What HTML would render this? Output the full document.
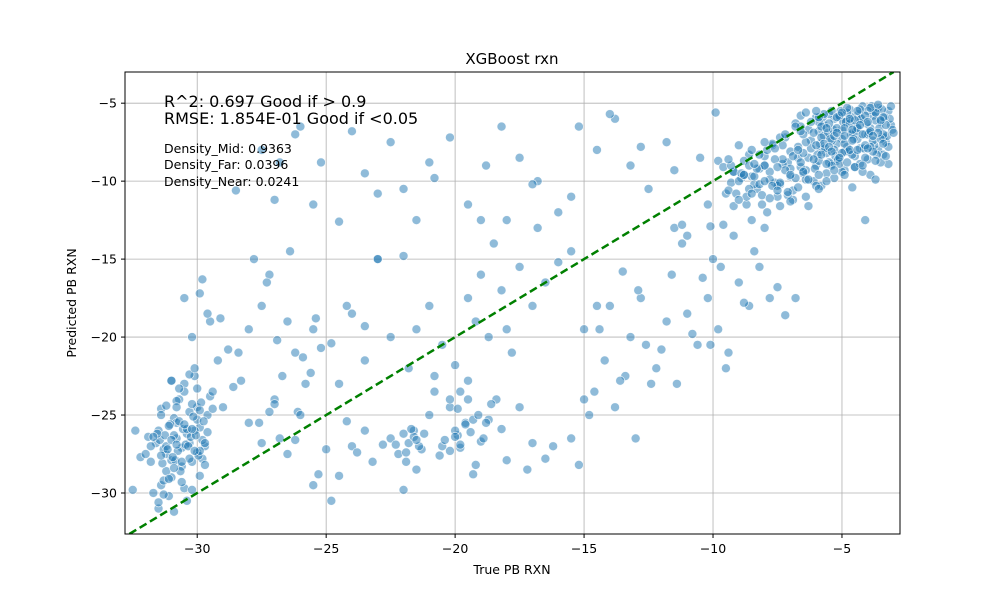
<!DOCTYPE html>
<html><head><meta charset="utf-8"><style>
html,body{margin:0;padding:0;background:#fff;}
svg{display:block;font-family:"DejaVu Sans","Liberation Sans",sans-serif;}
</style></head><body>
<svg id="chart" width="1000" height="600" viewBox="0 0 1000 600"></svg>
<script>
const xTicks=[-30,-25,-20,-15,-10,-5];
const yTicks=[-5,-10,-15,-20,-25,-30];
const xDomain=[-32.8,-2.75];
const yDomain=[-32.63,-3.0];
const aX=[-3.2,-3.5,-3.8,-4.1,-4.4,-4.7,-5.0,-5.3,-5.6,-5.9,-3.3,-3.6,-3.9,-4.2,-4.5,-4.8,-5.1,-5.4,-5.7,-6.0,-3.1,-3.4,-3.7,-4.0,-4.3,-4.6,-4.9,-5.2,-5.5,-5.8,-6.2,-6.5,-6.8,-7.1,-7.4,-7.7,-8.0,-8.3,-8.6,-8.9,-3.4,-3.9,-4.3,-4.8,-5.2,-5.7,-6.1,-6.6,-7.0,-7.5,-3.6,-4.0,-4.5,-4.9,-5.4,-5.8,-6.3,-6.7,-7.2,-7.6,-9.2,-9.5,-9.8,-8.1,-8.5,-7.9,-6.9,-6.4,-5.6,-4.6,-3.2,-3.7,-4.1,-4.4,-5.0,-5.3,-6.0,-6.6,-7.3,-8.2];
const aY=[-5.5,-6.2,-5.8,-7.0,-6.5,-5.4,-7.3,-6.0,-8.2,-6.8,-7.5,-8.0,-6.6,-5.2,-8.4,-7.8,-5.9,-8.9,-7.1,-9.0,-6.4,-7.2,-5.6,-8.6,-6.0,-6.9,-9.3,-7.6,-5.7,-8.0,-7.4,-9.5,-6.3,-8.8,-10.2,-7.7,-9.0,-10.5,-8.3,-9.8,-8.3,-9.6,-7.9,-6.1,-8.7,-6.4,-10.0,-5.8,-9.2,-11.0,-5.3,-7.0,-9.1,-8.1,-7.4,-10.3,-6.7,-8.5,-7.2,-10.1,-9.4,-10.8,-8.7,-11.5,-9.7,-12.0,-11.2,-9.9,-9.5,-10.4,-8.9,-9.9,-12.5,-7.3,-6.7,-8.0,-5.9,-6.5,-8.9,-9.2];
const a2X=[-3.15,-3.45,-3.75,-4.05,-4.35,-4.65,-4.95,-5.25,-5.55,-5.85,-3.25,-3.55,-3.85,-4.15,-4.45,-4.75,-5.05,-5.35,-5.65,-5.95,-3.35,-3.65,-3.95,-4.25,-4.55,-4.85,-5.15,-5.45,-5.75,-6.05,-3.05,-3.8,-4.0,-4.6,-4.9,-5.5,-6.3,-6.7,-7.0,-7.3,-3.5,-4.3,-4.7,-5.0,-5.2,-5.9,-6.4,-6.9,-7.8,-8.4,-3.7,-4.4,-5.3,-5.8,-6.2,-6.6,-7.5,-8.0,-8.8,-9.3,-3.9,-4.1,-4.6,-5.1,-5.6,-6.1,-6.5,-7.1,-7.7,-9.6,-3.4,-4.2,-4.8,-5.4,-5.9,-6.4,-7.4,-8.7,-9.9,-10.1];
const a2Y=[-6.0,-5.4,-7.7,-6.3,-5.7,-7.0,-6.2,-8.4,-6.9,-7.6,-7.1,-6.6,-5.2,-7.9,-6.8,-8.1,-5.5,-6.7,-7.9,-8.3,-5.9,-8.3,-6.9,-6.0,-7.3,-6.2,-8.6,-7.3,-5.9,-9.2,-6.7,-7.4,-5.5,-5.9,-7.6,-8.8,-8.5,-7.8,-9.7,-8.6,-8.8,-8.9,-6.3,-9.4,-6.6,-9.6,-9.3,-10.6,-9.4,-10.2,-6.1,-6.6,-9.8,-7.2,-7.9,-9.1,-10.3,-8.4,-9.6,-10.1,-7.8,-5.8,-8.3,-8.9,-10.0,-6.9,-8.2,-10.9,-7.6,-9.1,-7.0,-9.4,-5.6,-9.0,-6.2,-5.6,-11.6,-11.5,-5.6,-12.9];
const hX=[-3.1,-3.3,-3.5,-3.7,-3.9,-4.1,-4.3,-4.5,-4.7,-4.9,-5.1,-5.3,-5.5,-5.7,-5.9,-3.2,-3.4,-3.6,-3.8,-4.0,-4.2,-4.4,-4.6,-4.8,-5.0,-5.2,-5.4,-5.6,-5.8,-6.0,-3.3,-3.7,-4.1,-4.5,-4.9,-5.3,-5.7,-3.5,-3.9,-4.3,-4.7,-5.1,-5.5,-5.9,-3.0,-3.6,-4.0,-4.4,-4.8,-5.2,-5.6,-6.0,-3.8,-4.2,-4.6,-5.0,-5.4,-5.8,-3.4,-4.9];
const hY=[-5.2,-6.4,-7.3,-5.6,-6.8,-7.7,-5.4,-6.1,-8.0,-6.6,-5.8,-7.1,-6.3,-7.6,-8.7,-7.8,-5.9,-6.9,-8.1,-6.2,-7.0,-5.5,-7.4,-5.3,-8.2,-6.9,-5.5,-8.9,-6.5,-7.7,-8.4,-8.7,-8.5,-9.1,-7.1,-9.3,-5.7,-6.1,-5.3,-6.4,-6.0,-8.5,-7.8,-5.9,-6.9,-5.1,-7.9,-8.0,-8.8,-5.9,-6.6,-5.5,-7.1,-9.0,-6.7,-5.6,-8.1,-8.3,-7.6,-9.6];
const iX=[-6.2,-6.4,-6.6,-6.8,-7.0,-7.2,-7.4,-7.6,-7.8,-8.0,-8.2,-8.4,-8.6,-8.8,-9.0,-9.2,-9.4,-6.3,-6.5,-6.7,-6.9,-7.1,-7.3,-7.5,-7.7,-7.9,-8.1,-8.3,-8.5,-8.7,-8.9,-9.1,-9.3,-6.1,-6.6,-7.0,-7.4,-7.8,-8.2,-8.6,-9.0,-9.4,-6.4,-6.8,-7.2,-7.6,-8.0,-8.4,-8.8,-9.2,-6.0,-6.5,-7.0,-7.5,-8.0,-8.5,-9.0,-5.9,-6.3,-6.7];
const iY=[-6.2,-7.5,-8.8,-9.8,-8.1,-9.3,-10.1,-8.6,-9.9,-9.0,-8.3,-9.7,-10.5,-8.7,-10.0,-9.4,-10.6,-9.9,-7.0,-10.4,-8.4,-10.7,-7.7,-9.1,-10.3,-8.0,-10.9,-9.2,-8.0,-11.0,-9.5,-10.8,-9.0,-8.6,-6.8,-11.3,-7.2,-11.1,-10.2,-9.0,-7.7,-8.6,-11.0,-6.5,-7.0,-7.9,-7.5,-8.9,-9.6,-11.6,-10.3,-9.4,-9.6,-10.6,-10.0,-10.8,-11.2,-10.5,-11.6,-8.0];
const bX=[-31.5,-31.2,-30.9,-30.6,-30.3,-30.0,-29.7,-31.4,-31.1,-30.8,-30.5,-30.2,-29.9,-31.3,-31.0,-30.7,-30.4,-30.1,-29.8,-29.5,-31.6,-31.2,-30.8,-30.4,-30.0,-29.6,-31.5,-31.0,-30.5,-30.1,-31.8,-31.3,-30.9,-30.3,-29.9,-32.2,-32.5,-31.9,-31.7,-30.6,-31.4,-31.0,-30.7,-30.2,-29.8,-31.2,-30.9,-30.5,-30.0,-29.7];
const bY=[-26.0,-27.5,-25.2,-28.3,-26.8,-24.5,-27.0,-29.5,-30.2,-26.5,-23.0,-28.0,-25.8,-27.2,-29.0,-24.0,-26.2,-22.5,-27.8,-23.8,-26.8,-28.6,-25.5,-30.5,-27.4,-25.0,-31.0,-27.9,-29.7,-26.0,-28.0,-29.2,-26.3,-24.8,-28.9,-27.7,-29.8,-26.4,-30.0,-27.1,-24.6,-22.8,-25.4,-29.8,-26.6,-27.0,-31.2,-23.5,-25.3,-28.2];
const b2X=[-31.45,-31.15,-30.85,-30.55,-30.25,-29.95,-31.35,-31.05,-30.75,-30.45,-30.15,-29.85,-31.25,-30.95,-30.65,-30.35,-30.05,-29.75,-31.55,-31.1,-30.6,-30.2,-29.9,-31.4,-30.8,-30.4,-30.0,-31.3,-30.9,-30.3,-32.4,-32.0,-31.8,-31.5,-31.0,-30.7,-30.3,-29.9,-29.6,-31.2,-31.4,-30.8,-30.5,-30.1,-29.7,-31.1,-30.6,-30.2,-29.4,-31.7];
const b2Y=[-26.6,-27.2,-27.9,-25.9,-26.4,-27.6,-28.1,-25.6,-27.3,-26.9,-25.1,-24.2,-26.3,-27.7,-28.6,-27.0,-26.3,-25.4,-26.2,-29.1,-29.3,-24.3,-27.3,-25.0,-24.1,-25.9,-23.3,-30.1,-28.4,-27.8,-26.0,-27.5,-27.0,-30.6,-26.6,-23.3,-22.4,-24.7,-26.1,-24.4,-27.6,-26.9,-25.6,-27.3,-26.8,-25.7,-28.0,-25.9,-24.6,-26.4];
const cX=[-30.5,-29.8,-29.5,-29.2,-28.8,-28.3,-27.5,-27.2,-26.9,-26.5,-26.2,-25.8,-25.5,-25.2,-30.1,-29.6,-28.6,-27.8,-27.0,-26.4,-31.0,-30.2,-29.0,-28.0,-27.3,-26.7,-25.9,-25.4,-29.4,-28.4,-30.8,-29.9,-29.1,-27.6,-26.1,-25.6,-24.8,-24.2,-23.5,-23.0];
const cY=[-17.5,-16.3,-19.0,-21.5,-20.8,-22.8,-18.0,-16.0,-20.2,-19.0,-21.0,-23.0,-19.5,-20.7,-22.0,-18.5,-23.2,-15.0,-24.0,-14.5,-22.8,-20.0,-24.5,-19.5,-16.5,-22.5,-21.3,-18.8,-23.5,-21.0,-24.5,-17.2,-18.8,-25.5,-24.8,-22.3,-20.4,-18.0,-19.3,-15.0];
const dX=[-28.0,-27.5,-27.0,-26.5,-26.0,-25.5,-25.0,-24.5,-24.0,-23.5,-22.5,-22.2,-21.9,-21.6,-21.3,-21.0,-20.5,-20.2,-19.9,-19.6,-19.3,-19.0,-18.7,-18.4,-18.0,-17.5,-17.0,-16.5,-22.0,-21.5,-20.8,-20.0,-19.5,-18.8,-24.8,-25.3,-26.8,-23.2,-22.8,-16.2,-27.2,-26.2,-24.2,-23.8,-21.2,-20.6,-19.8,-19.2,-18.2,-17.2];
const dY=[-25.5,-26.8,-24.3,-27.5,-25.0,-29.5,-27.2,-28.9,-27.0,-26.0,-26.5,-27.5,-28.0,-26.0,-27.2,-25.0,-27.0,-24.5,-26.3,-25.5,-28.8,-26.7,-25.3,-24.0,-27.9,-24.5,-26.8,-27.8,-29.8,-28.5,-23.5,-26.0,-22.8,-25.5,-30.5,-28.8,-26.5,-28.0,-26.9,-27.0,-24.8,-26.6,-25.4,-27.4,-26.2,-27.6,-27.1,-28.2,-25.9,-28.5];
const d2X=[-22.0,-21.8,-21.6,-21.4,-21.9,-21.7,-21.5,-20.0,-19.8,-19.6,-19.4,-20.2,-19.9,-19.5,-19.3,-18.9,-22.3,-20.4,-19.1,-18.6];
const d2Y=[-26.2,-26.8,-26.4,-27.0,-27.4,-25.9,-26.6,-26.4,-26.9,-25.6,-26.1,-27.3,-24.6,-24.0,-25.3,-26.5,-26.9,-26.6,-25.0,-24.3];
const eX=[-15.5,-15.0,-14.6,-14.2,-13.8,-13.4,-13.0,-12.6,-12.2,-11.8,-11.4,-11.0,-10.6,-10.2,-9.8,-9.4,-9.0,-8.6,-8.2,-7.8,-14.8,-14.0,-13.2,-12.4,-11.6,-10.8,-10.0,-9.2,-8.4,-7.5,-13.6,-12.8,-12.0,-11.2,-10.4,-9.6,-8.8,-8.0,-7.2,-6.8,-15.2,-13.5,-11.5,-10.1,-9.5,-8.5,-12.9,-14.4,-11.0,-9.7];
const eY=[-26.5,-24.0,-23.5,-21.5,-24.5,-22.5,-26.5,-20.5,-22.0,-19.0,-23.0,-18.5,-20.5,-17.5,-19.5,-21.0,-16.5,-18.0,-15.5,-17.5,-25.0,-18.0,-20.0,-23.0,-16.0,-19.8,-15.0,-13.5,-14.5,-16.8,-22.8,-17.5,-20.8,-14.0,-16.2,-12.8,-17.8,-13.0,-18.6,-17.5,-28.2,-15.8,-13.0,-20.5,-22.0,-12.5,-17.0,-19.5,-13.5,-15.5];
const fX=[-28.5,-27.5,-26.8,-26.0,-25.2,-24.5,-23.5,-22.5,-21.5,-20.8,-20.2,-19.5,-18.8,-18.2,-17.5,-16.8,-16.0,-15.2,-14.5,-13.8,-13.2,-12.5,-11.8,-11.2,-10.5,-27.0,-25.5,-24.0,-22.0,-21.0,-19.0,-17.0,-15.5,-14.0,-12.8,-11.5,-10.2,-26.2,-23.0,-18.0];
const fY=[-10.6,-8.0,-8.8,-6.5,-8.8,-12.6,-9.5,-7.5,-12.5,-9.8,-7.2,-11.5,-9.0,-6.5,-8.5,-10.0,-12.0,-6.5,-8.0,-6.0,-9.0,-10.5,-7.5,-12.8,-8.5,-11.2,-11.5,-6.8,-10.5,-8.8,-12.5,-10.2,-11.0,-5.7,-7.8,-9.3,-11.5,-7.0,-10.8,-12.5];
const gX=[-24.0,-23.0,-22.0,-21.5,-21.0,-20.5,-20.0,-19.5,-19.0,-18.5,-18.0,-17.5,-17.0,-16.5,-16.0,-15.5,-22.5,-20.8,-19.2,-18.7,-24.5,-23.5,-19.8,-17.8,-15.0,-14.5,-16.8,-21.8,-20.2,-18.2];
const gY=[-18.5,-15.0,-14.8,-19.5,-18.0,-20.5,-21.8,-17.5,-16.0,-14.0,-19.5,-15.5,-18.0,-16.5,-15.2,-14.5,-20.0,-22.5,-19.0,-20.0,-23.0,-21.5,-23.5,-21.0,-19.5,-18.0,-13.0,-22.0,-24.0,-17.0];

const L=125,R=900,T=72,B=534;
const sx=v=>L+(v-xDomain[0])/(xDomain[1]-xDomain[0])*(R-L);
const sy=v=>B-(v-yDomain[0])/(yDomain[1]-yDomain[0])*(B-T);
const NS='http://www.w3.org/2000/svg';
const svg=document.getElementById('chart');
function mk(tag,attrs,parent){const e=document.createElementNS(NS,tag);for(const k in attrs)e.setAttribute(k,attrs[k]);(parent||svg).appendChild(e);return e;}
const fmt=v=>String(v).replace('-','\u2212');

const grid=mk('g',{});


xTicks.forEach(t=>{const l=mk('line',{x1:sx(t),x2:sx(t),y1:T,y2:B,stroke:'#b0b0b0','stroke-width':0.8},grid);

});
yTicks.forEach(t=>{const l=mk('line',{x1:L,x2:R,y1:sy(t),y2:sy(t),stroke:'#b0b0b0','stroke-width':0.8},grid);

});

const defs=mk('defs',{});
const cp=mk('clipPath',{id:'clip'},defs);
mk('rect',{x:L,y:T,width:R-L,height:B-T},cp);

const pts=mk('g',{'clip-path':'url(#clip)'});


[[aX,aY],[a2X,a2Y],[hX,hY],[iX,iY],[bX,bY],[b2X,b2Y],[cX,cY],[dX,dY],[d2X,d2Y],[eX,eY],[fX,fY],[gX,gY]].forEach(([xs,ys])=>{
 xs.forEach((x,i)=>{const c=mk('circle',{cx:sx(x),cy:sy(ys[i]),r:4.5,fill:'rgba(31,119,180,0.5)',stroke:'rgba(255,255,255,0.8)','stroke-width':0.7},pts);
 
 });
});

const diag=mk('line',{x1:sx(-32.63),y1:sy(-32.63),x2:sx(-3.0),y2:sy(-3.0),stroke:'#008000','stroke-width':2.5,'stroke-dasharray':'8,4','clip-path':'url(#clip)'});



const frame=mk('rect',{x:L,y:T,width:R-L,height:B-T,fill:'none',stroke:'#000','stroke-width':1});



xTicks.forEach(t=>{mk('line',{x1:sx(t),x2:sx(t),y1:B,y2:B+4,stroke:'#000'});
 const tx=mk('text',{x:sx(t),y:B+19,'text-anchor':'middle','font-size':12.5,fill:'#000'});tx.textContent=fmt(t);
 
 });
yTicks.forEach(t=>{mk('line',{x1:L-4,x2:L,y1:sy(t),y2:sy(t),stroke:'#000'});
 const tx=mk('text',{x:L-8,y:sy(t)+4.5,'text-anchor':'end','font-size':12.5,fill:'#000'});tx.textContent=fmt(t);
 
 });

function txt(s,attrs,name){const t=mk('text',attrs);t.textContent=s;return t;}
txt('XGBoost rxn',{x:512,y:64,'text-anchor':'middle','font-size':15},'chart-title');
txt('True PB RXN',{x:512,y:574,'text-anchor':'middle','font-size':12.5},'x-axis-title');
txt('Predicted PB RXN',{x:76,y:303,'text-anchor':'middle','font-size':12.5,transform:'rotate(-90 76 303)'},'y-axis-title');
txt('R^2: 0.697 Good if > 0.9',{x:164,y:107,'font-size':16},'r2-annotation');
txt('RMSE: 1.854E-01 Good if <0.05',{x:164,y:124,'font-size':16},'rmse-annotation');
txt('Density_Mid: 0.9363',{x:164,y:153,'font-size':12.5},'density-mid-annotation');
txt('Density_Far: 0.0396',{x:164,y:169,'font-size':12.5},'density-far-annotation');
txt('Density_Near: 0.0241',{x:164,y:186,'font-size':12.5},'density-near-annotation');
</script>
</body></html>
